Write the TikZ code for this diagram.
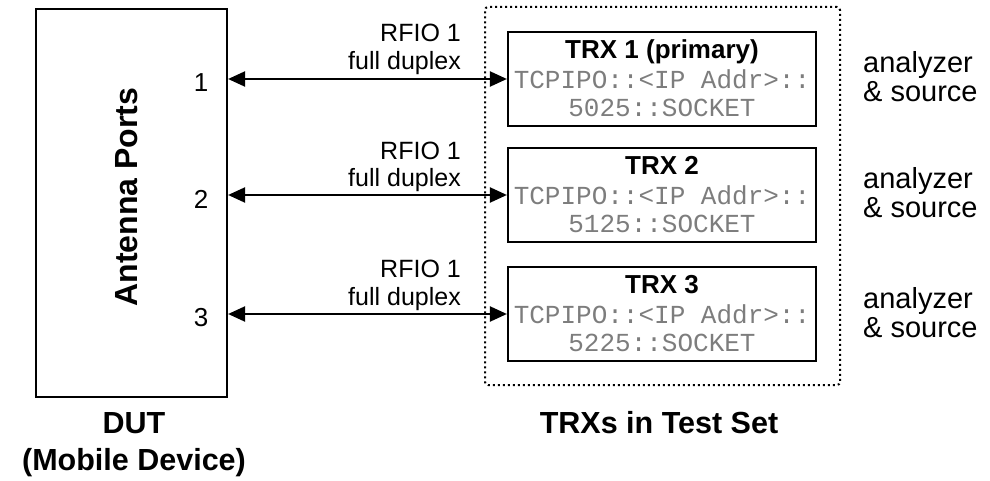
\documentclass[tikz,border=0pt]{standalone}
\usepackage{fontspec}
\setmainfont{Liberation Sans}
\newfontfamily\monof{Liberation Mono}
\usetikzlibrary{arrows.meta}
\definecolor{monogray}{RGB}{125,125,125}
\begin{document}
\begin{tikzpicture}[x=1pt,y=-1pt,
  box/.style={draw,line width=2.2pt,inner sep=0pt},
  trxbox/.style={box,minimum width=308pt,minimum height=94pt},
  dotbox/.style={draw,line width=2pt,dash pattern=on 2pt off 3pt,rounded corners=3pt,inner sep=0pt},
  link/.style={{Triangle[length=17pt,width=15pt]}-{Triangle[length=17pt,width=15pt]},line width=2.2pt},
  lbl/.style={inner sep=0pt,font=\fontsize{25}{28}\selectfont},
  num/.style={inner sep=0pt,font=\fontsize{26}{28}\selectfont,anchor=base},
  side/.style={inner sep=0pt,font=\fontsize{29}{29}\selectfont,align=left,anchor=base west},
  ttl/.style={inner sep=0pt,font=\fontsize{26}{28}\selectfont\bfseries,anchor=base},
  mono/.style={inner sep=0pt,font=\fontsize{26}{28}\monof,text=monogray,align=center,anchor=base},
  caption/.style={inner sep=0pt,font=\fontsize{30.5}{37}\selectfont\bfseries,align=center,anchor=base},
]
\useasboundingbox (0,0) rectangle (990,481);

% DUT
\node[box,minimum width=191pt,minimum height=388pt] (dut) at (131.5,203) {};
\node[rotate=90,inner sep=0pt,font=\fontsize{32}{36}\selectfont\bfseries,anchor=base] (ant) at (137,197) {Antenna Ports};
\node[num] (n1) at (201,92) {1};
\node[num] (n2) at (201,208) {2};
\node[num] (n3) at (201,326) {3};

% Test set
\node[dotbox,minimum width=355pt,minimum height=378pt] (set) at (662.5,196) {};
\node[trxbox] (trx1) at (662,79) {};
\node[trxbox] (trx2) at (662,195) {};
\node[trxbox] (trx3) at (662,314) {};

\node[ttl] (t1) at ([yshift=-28pt]trx1.north) {TRX 1 (primary)};
\node[ttl] (t2) at ([yshift=-28pt]trx2.north) {TRX 2};
\node[ttl] (t3) at ([yshift=-28pt]trx3.north) {TRX 3};
\node[mono] (a1) at ([yshift=-86pt]trx1.north) {TCPIPO::<IP Addr>::\\5025::SOCKET};
\node[mono] (a2) at ([yshift=-86pt]trx2.north) {TCPIPO::<IP Addr>::\\5125::SOCKET};
\node[mono] (a3) at ([yshift=-86pt]trx3.north) {TCPIPO::<IP Addr>::\\5225::SOCKET};

% links
\draw[link] (trx1.west -| dut.east) -- (trx1.west);
\draw[link] (trx2.west -| dut.east) -- (trx2.west);
\draw[link] (trx3.west -| dut.east) -- (trx3.west);

\node[lbl,align=right,anchor=base east] (r1) at (461,70) {RFIO 1\\full duplex};
\node[lbl,align=right,anchor=base east] (r2) at (461,187) {RFIO 1\\full duplex};
\node[lbl,align=right,anchor=base east] (r3) at (461,305) {RFIO 1\\full duplex};

\node[side] (s1) at (863,102) {analyzer\\\& source};
\node[side] (s2) at (863,218) {analyzer\\\& source};
\node[side] (s3) at (863,337) {analyzer\\\& source};

% captions
\node[caption] (dutcap) at (134,470) {DUT\\(Mobile Device)};
\node[caption] (setcap) at (659,433) {TRXs in Test Set};
\end{tikzpicture}
\end{document}
